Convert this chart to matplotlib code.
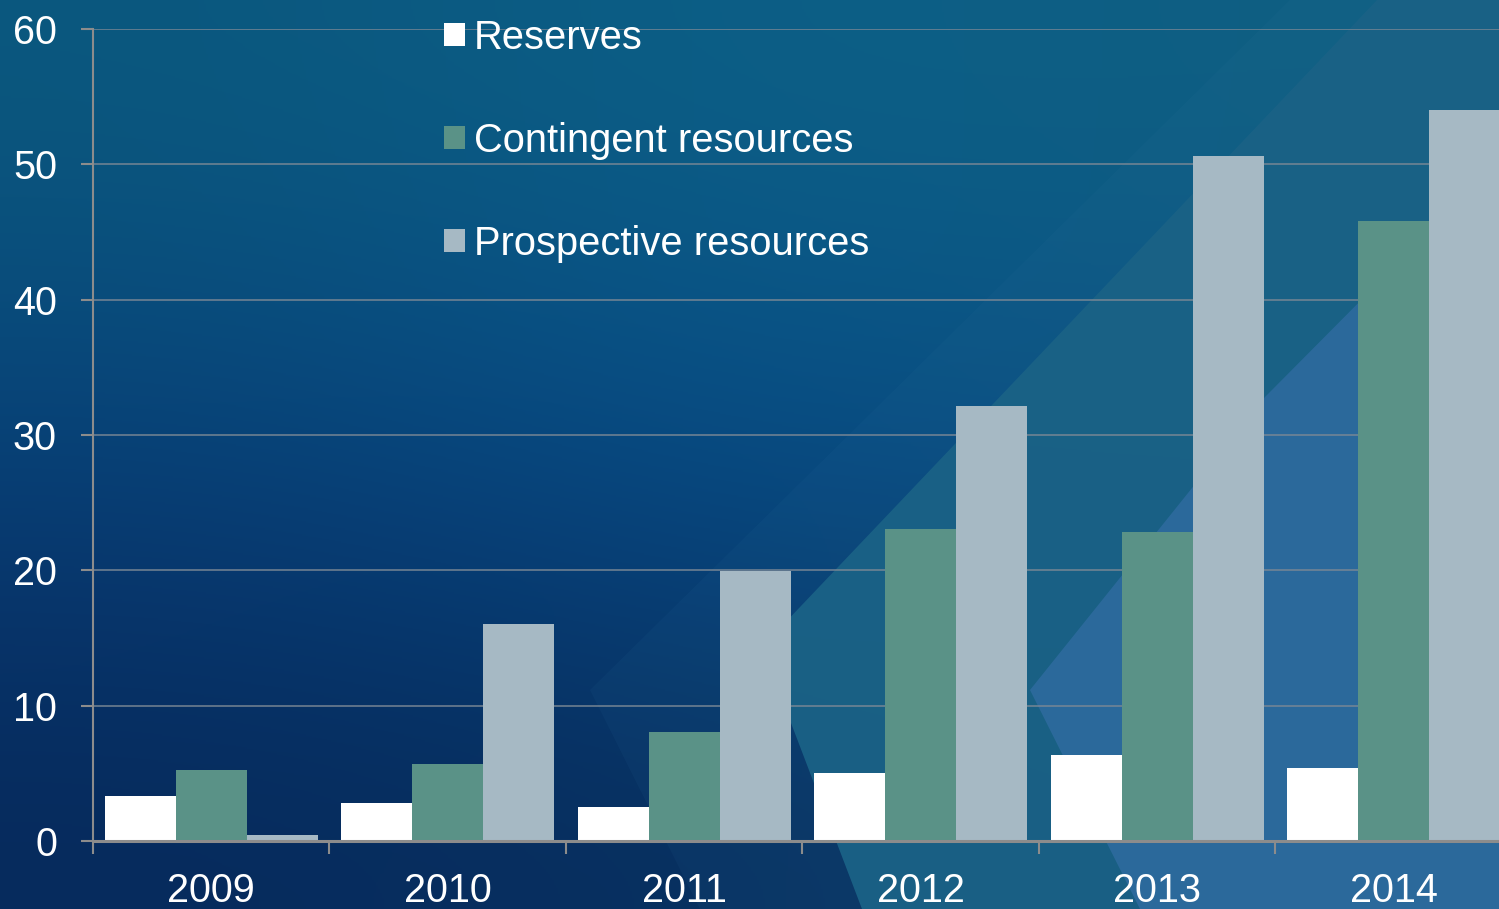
import numpy as np
import matplotlib
matplotlib.use("Agg")
import matplotlib.pyplot as plt
from matplotlib.patches import Polygon, Patch
from matplotlib.colors import to_rgb

years = ["2009", "2010", "2011", "2012", "2013", "2014"]
series_names = ["Reserves", "Contingent resources", "Prospective resources"]
reserves = [3.35, 2.8, 2.5, 5.0, 6.35, 5.4]
contingent = [5.25, 5.7, 8.05, 23.05, 22.85, 45.8]
prospective = [0.45, 16.0, 19.95, 32.15, 50.65, 54.0]
colors = ["#ffffff", "#5a9287", "#a6b9c4"]
yticks = [0, 10, 20, 30, 40, 50, 60]

W, H = 1499, 909
fig = plt.figure(figsize=(W / 100, H / 100), dpi=100)
plt.rcParams['font.family'] = ['Liberation Sans', 'DejaVu Sans']

# ---- background (decorative) ----
bg = fig.add_axes([0, 0, 1, 1], zorder=0)
bg.set_xlim(0, W)
bg.set_ylim(H, 0)
bg.axis("off")
grid_cols = [
    ["#0b587e", "#0c6088", "#0f5f82"],
    ["#073f78", "#064c8a", "#0b4f80"],
    ["#072a5c", "#07305f", "#0c3a66"],
]
img = np.array([[to_rgb(c) for c in row] for row in grid_cols])
bg.imshow(img, extent=[0, W, H, 0], interpolation="bicubic", aspect="auto", zorder=0)
# faint wide chevron
bg.add_patch(Polygon([(590, 690), (1300, -10), (1520, -10), (1520, 909), (700, 909)],
                     closed=True, facecolor="#3a7aa8", alpha=0.08, edgecolor="none", zorder=1))
# teal chevron
bg.add_patch(Polygon([(762, 647), (1377, 0), (1520, 0), (1520, 909), (862, 909)],
                     closed=True, facecolor="#1a6286", alpha=0.95, edgecolor="none", zorder=2))
# lighter blue chevron
bg.add_patch(Polygon([(1030, 690), (1265, 397), (1520, 140), (1520, 909), (1140, 909)],
                     closed=True, facecolor="#2c6a9c", alpha=0.97, edgecolor="none", zorder=3))

# ---- chart ----
left = 93 / W
right = 1512 / W
bottom = (H - 841) / H
top = (H - 29) / H
ax = fig.add_axes([left, bottom, right - left, top - bottom], zorder=2)
ax.patch.set_alpha(0)

x = np.arange(len(years))
bw = 0.3
data = [reserves, contingent, prospective]
for i, (vals, c, name) in enumerate(zip(data, colors, series_names)):
    ax.bar(x + (i - 1) * bw, vals, width=bw, color=c, edgecolor="none", label=name, zorder=3)

ax.set_xlim(-0.5, len(years) - 0.5)
ax.set_ylim(0, 60)
ax.set_yticks(yticks)
ax.set_yticklabels([str(v) for v in yticks])
ax.yaxis.grid(True, color="#7b8895", linewidth=1.4, alpha=0.75, zorder=1)
ax.set_axisbelow(True)

ax.set_xticks(np.arange(len(years) + 1) - 0.5)
ax.set_xticklabels([])
ax.set_xticks(x, minor=True)
ax.set_xticklabels(years, minor=True)
ax.tick_params(axis="x", which="major", length=9, width=1.5, color="#8c8c8c", direction="out")
ax.tick_params(axis="x", which="minor", length=0, pad=22, labelsize=28.5, labelcolor="white")
ax.tick_params(axis="y", length=9, width=1.5, color="#8c8c8c", direction="out",
               pad=17, labelsize=28.5, labelcolor="white")

for s in ["top", "right"]:
    ax.spines[s].set_visible(False)
ax.spines["left"].set_color("#8c8c8c")
ax.spines["left"].set_linewidth(1.5)
ax.spines["bottom"].set_color("#8c8c8c")
ax.spines["bottom"].set_linewidth(2.2)
ax.spines["bottom"].set_zorder(4)

handles = [Patch(facecolor=c, edgecolor="none") for c in colors]
leg = fig.legend(handles, series_names, loc="upper left",
                 bbox_to_anchor=(416 / W, 1 + 9 / H), frameon=False,
                 fontsize=28.7, labelcolor="white", handlelength=0.52, handleheight=0.52,
                 handletextpad=0.24, labelspacing=1.63, borderpad=0.2)

fig.savefig("out.png", dpi=100)
